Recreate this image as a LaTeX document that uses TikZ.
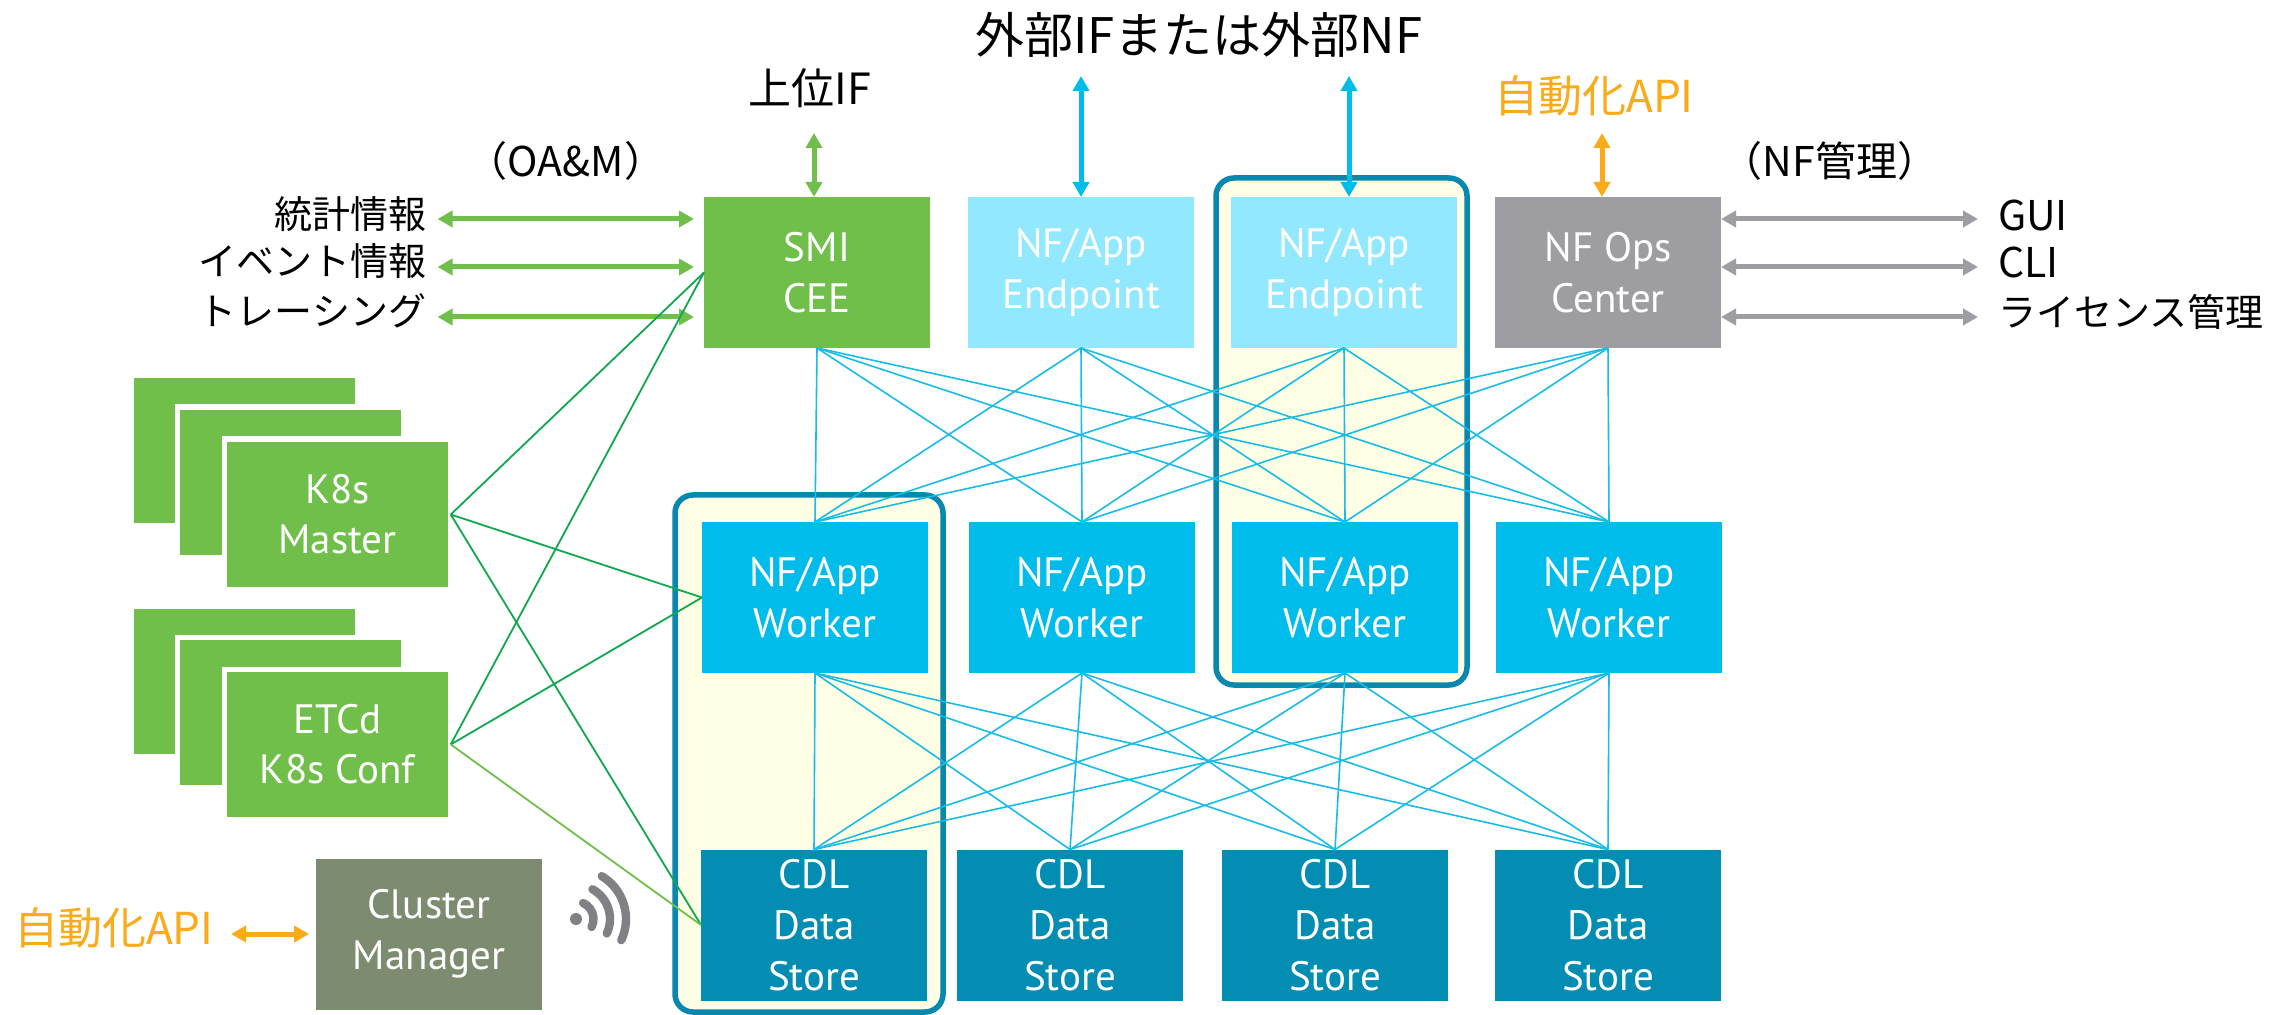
\documentclass[tikz,border=0pt]{standalone}
\usepackage{fontspec}
\setmainfont{Noto Sans CJK JP}
\newfontfamily\boxfont{PT Sans}
\usetikzlibrary{arrows.meta,calc}
\definecolor{cgreen}{HTML}{70BF4B}
\definecolor{clight}{HTML}{92E8FF}
\definecolor{ccyan}{HTML}{00BCEB}
\definecolor{cteal}{HTML}{038DB2}
\definecolor{cgray}{HTML}{9E9DA2}
\definecolor{corange}{HTML}{FBAB18}
\definecolor{cyellow}{HTML}{FFFFE6}
\definecolor{cframe}{HTML}{0888AE}
\definecolor{ccluster}{HTML}{7D8B71}
\definecolor{cline}{HTML}{18BCE6}
\definecolor{clinkg}{HTML}{0FA84F}
\definecolor{cwifi}{HTML}{808184}
\tikzset{
  bx/.style={rectangle,inner sep=0pt,outer sep=0pt,minimum width=113pt,minimum height=75.5pt,
    text=white,align=center,font=\boxfont\fontsize{20.5}{25.5}\selectfont},
  stk/.style={rectangle,inner sep=0pt,outer sep=0pt,minimum width=113.25pt,minimum height=75.25pt,
    fill=cgreen,draw=white,line width=2.75pt,text=white,align=center,font=\boxfont\fontsize{20.5}{25}\selectfont},
  frm/.style={rectangle,rounded corners=9pt,draw=cframe,fill=cyellow,line width=2.75pt,inner sep=0pt,outer sep=0pt},
  lbl/.style={inner sep=0pt,outer sep=0pt,font=\fontsize{19}{22}\selectfont,text=black},
  lblo/.style={inner sep=0pt,outer sep=0pt,font=\fontsize{22}{26}\selectfont,text=corange},
  arr/.style={{Triangle[width=8pt,length=7.5pt]}-{Triangle[width=8pt,length=7.5pt]},line width=2.5pt},
  mesh/.style={draw=cline,line width=0.8pt},
  glink/.style={draw=clinkg,line width=0.9pt},
  wifiarc/.style={draw=cwifi,line width=4.2pt,line cap=round}
}
\begin{document}
\begin{tikzpicture}[x=0.5pt,y=-0.5pt]
\useasboundingbox[fill=white] (0,0) rectangle (2285,1015);
% frames
\node[frm,minimum width=125.5pt,minimum height=253.5pt] (frB) at (1341.5,431.5) {};
\node[frm,minimum width=134pt,minimum height=258.5pt] (frA) at (809,753.5) {};
% boxes
\node[bx,fill=cgreen] (ep1) at (817,272.5) {SMI\\CEE};
\node[bx,fill=clight] (ep2) at (1081,272.5) {NF/App\\Endpoint};
\node[bx,fill=clight] (ep3) at (1344,272.5) {NF/App\\Endpoint};
\node[bx,fill=cgray] (ep4) at (1608,272.5) {NF Ops\\Center};
\node[bx,fill=ccyan] (wk1) at (815,597.5) {NF/App\\Worker};
\node[bx,fill=ccyan] (wk2) at (1082,597.5) {NF/App\\Worker};
\node[bx,fill=ccyan] (wk3) at (1345,597.5) {NF/App\\Worker};
\node[bx,fill=ccyan] (wk4) at (1609,597.5) {NF/App\\Worker};
\node[bx,fill=cteal] (cd1) at (814,925) {CDL\\Data\\Store};
\node[bx,fill=cteal] (cd2) at (1070,925) {CDL\\Data\\Store};
\node[bx,fill=cteal] (cd3) at (1335,925) {CDL\\Data\\Store};
\node[bx,fill=cteal] (cd4) at (1608,925) {CDL\\Data\\Store};
\node[bx,fill=ccluster] (clu) at (429,934) {Cluster\\Manager};
% stacks
\node[stk] (ma) at (244,450.5) {};
\node[stk] (mb) at (290.5,482.5) {};
\node[stk] (k8s) at (337.5,514.5) {K8s\\Master};
\node[stk] (ea) at (244,681.5) {};
\node[stk] (eb) at (290.5,712.5) {};
\node[stk] (etc) at (337.5,744.5) {ETCd\\K8s Conf};
% mesh
\foreach \a in {1,2,3,4}{\foreach \b in {1,2,3,4}{
  \draw[mesh] (ep\a.south) -- (wk\b.north);
  \draw[mesh] (wk\a.south) -- (cd\b.north);
}}
% labels
\node[lbl,anchor=east] (t1) at (426,214) {統計情報};
\node[lbl,anchor=east] (t2) at (426,261) {イベント情報};
\node[lbl,anchor=east] (t3) at (426,311) {トレーシング};
\node[lbl,anchor=center,font=\fontsize{20.5}{24}\selectfont] (oam) at (566,161) {（OA\&M）};
\node[lbl,anchor=center,font=\fontsize{21.5}{26}\selectfont] (up) at (810,88) {上位IF};
\node[lbl,anchor=center,font=\fontsize{24.5}{30}\selectfont] (ext) at (1199,35) {外部IFまたは外部NF};
\node[lblo] (api1) at (1594,96) {自動化API};
\node[lbl,font=\fontsize{20.5}{24}\selectfont] (nfm) at (1830,161) {（NF管理）};
\node[lbl,anchor=west,font=\fontsize{20.5}{24}\selectfont] (gui) at (1998,215) {GUI};
\node[lbl,anchor=west,font=\fontsize{20.5}{24}\selectfont] (cli) at (1998,262) {CLI};
\node[lbl,anchor=west] (lic) at (1998,312) {ライセンス管理};
\node[lblo,anchor=west] (api2) at (14,928) {自動化API};
% free ends
\coordinate (a1) at (437.6,219);
\coordinate (a2) at (437.6,267);
\coordinate (a3) at (437.6,317);
\coordinate (b1) at (1978,219);
\coordinate (b2) at (1978,267);
\coordinate (b3) at (1978,317);
\coordinate (v1) at (814,133);
\coordinate (v2) at (1081,76);
\coordinate (v3) at (1349,76);
\coordinate (v4) at (1602,133);
\coordinate (c1) at (231,934);
% arrows
\draw[arr,cgreen,shorten >=5pt] (a1) -- (a1 -| ep1.west);
\draw[arr,cgreen,shorten >=5pt] (a2) -- (a2 -| ep1.west);
\draw[arr,cgreen,shorten >=5pt] (a3) -- (a3 -| ep1.west);
\draw[arr,cgray] (b1 -| ep4.east) -- (b1);
\draw[arr,cgray] (b2 -| ep4.east) -- (b2);
\draw[arr,cgray] (b3 -| ep4.east) -- (b3);
\draw[arr,cgreen] (v1) -- (v1 |- ep1.north);
\draw[arr,ccyan] (v2) -- (v2 |- ep2.north);
\draw[arr,ccyan] (v3) -- (v3 |- ep3.north);
\draw[arr,corange] (v4) -- (v4 |- ep4.north);
\draw[arr,corange,shorten >=3.5pt] (c1) -- (c1 -| clu.west);
% green links
\draw[glink] (k8s.east) -- (ep1.west);
\draw[glink] (k8s.east) -- (wk1.west);
\draw[glink] (k8s.east) -- (cd1.west);
\draw[glink] (etc.east) -- (ep1.west);
\draw[glink] (etc.east) -- (wk1.west);
\draw[glink,draw=cgreen] (etc.east) -- (cd1.west);
% wifi
\coordinate (w) at (576,919);
\fill[cwifi] (w) circle[radius=3pt];
\draw[wifiarc] ($(w)+(66:8.75pt)$) arc[start angle=66,end angle=-27,radius=8.75pt];
\draw[wifiarc] ($(w)+(61:17pt)$) arc[start angle=61,end angle=-25,radius=17pt];
\draw[wifiarc] ($(w)+(59:25pt)$) arc[start angle=59,end angle=-25,radius=25pt];
\end{tikzpicture}
\end{document}
